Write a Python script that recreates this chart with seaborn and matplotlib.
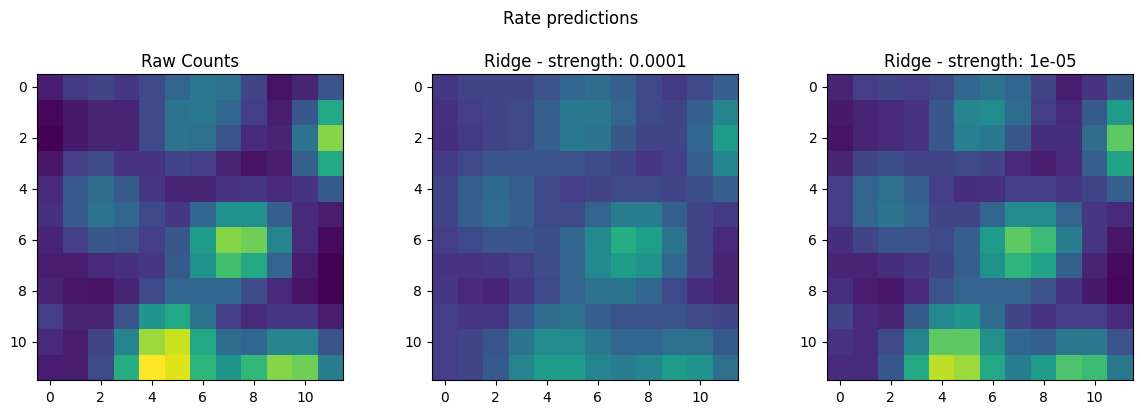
import numpy as np
import seaborn as sns
import matplotlib.pyplot as plt

# values, scaled to the colormap range 0..1
raw_counts = [
    [0.08, 0.17, 0.20, 0.16, 0.22, 0.32, 0.40, 0.37, 0.20, 0.05, 0.10, 0.25],
    [0.02, 0.07, 0.10, 0.10, 0.22, 0.38, 0.40, 0.33, 0.18, 0.08, 0.27, 0.60],
    [0.00, 0.07, 0.10, 0.10, 0.22, 0.38, 0.36, 0.25, 0.12, 0.10, 0.38, 0.82],
    [0.06, 0.18, 0.23, 0.15, 0.15, 0.20, 0.18, 0.10, 0.05, 0.08, 0.30, 0.60],
    [0.12, 0.28, 0.35, 0.28, 0.16, 0.10, 0.10, 0.15, 0.16, 0.12, 0.15, 0.28],
    [0.14, 0.28, 0.38, 0.33, 0.22, 0.16, 0.33, 0.50, 0.50, 0.30, 0.12, 0.08],
    [0.10, 0.18, 0.27, 0.25, 0.18, 0.27, 0.55, 0.82, 0.78, 0.45, 0.12, 0.03],
    [0.08, 0.08, 0.12, 0.14, 0.16, 0.28, 0.50, 0.70, 0.60, 0.32, 0.08, 0.00],
    [0.10, 0.06, 0.05, 0.10, 0.22, 0.33, 0.33, 0.33, 0.23, 0.12, 0.05, 0.00],
    [0.18, 0.10, 0.10, 0.25, 0.52, 0.60, 0.38, 0.18, 0.12, 0.16, 0.16, 0.08],
    [0.12, 0.08, 0.20, 0.45, 0.85, 0.92, 0.60, 0.35, 0.33, 0.45, 0.45, 0.25],
    [0.08, 0.08, 0.22, 0.62, 1.00, 0.95, 0.65, 0.52, 0.66, 0.82, 0.78, 0.42],
]

ridge_1e4 = [
    [0.16, 0.20, 0.20, 0.20, 0.25, 0.33, 0.35, 0.30, 0.22, 0.17, 0.22, 0.30],
    [0.14, 0.18, 0.20, 0.22, 0.30, 0.40, 0.40, 0.32, 0.22, 0.20, 0.30, 0.45],
    [0.13, 0.17, 0.20, 0.22, 0.30, 0.40, 0.38, 0.27, 0.20, 0.20, 0.33, 0.55],
    [0.17, 0.22, 0.26, 0.26, 0.26, 0.25, 0.23, 0.20, 0.16, 0.18, 0.30, 0.46],
    [0.20, 0.30, 0.34, 0.30, 0.22, 0.18, 0.20, 0.22, 0.22, 0.20, 0.24, 0.30],
    [0.20, 0.30, 0.35, 0.30, 0.22, 0.22, 0.32, 0.42, 0.42, 0.30, 0.20, 0.17],
    [0.18, 0.22, 0.26, 0.26, 0.24, 0.33, 0.47, 0.62, 0.56, 0.38, 0.20, 0.12],
    [0.15, 0.15, 0.16, 0.18, 0.23, 0.32, 0.47, 0.55, 0.50, 0.33, 0.20, 0.10],
    [0.16, 0.12, 0.10, 0.16, 0.22, 0.32, 0.37, 0.38, 0.33, 0.22, 0.13, 0.10],
    [0.18, 0.16, 0.16, 0.26, 0.35, 0.38, 0.30, 0.26, 0.25, 0.25, 0.22, 0.20],
    [0.18, 0.20, 0.26, 0.38, 0.48, 0.48, 0.40, 0.33, 0.33, 0.36, 0.36, 0.28],
    [0.18, 0.20, 0.28, 0.45, 0.55, 0.55, 0.45, 0.42, 0.45, 0.55, 0.50, 0.36],
]

ridge_1e5 = [
    [0.10, 0.18, 0.20, 0.18, 0.22, 0.33, 0.38, 0.33, 0.20, 0.08, 0.15, 0.27],
    [0.07, 0.10, 0.12, 0.15, 0.27, 0.45, 0.48, 0.35, 0.18, 0.12, 0.28, 0.55],
    [0.05, 0.10, 0.12, 0.15, 0.27, 0.43, 0.40, 0.27, 0.13, 0.13, 0.35, 0.75],
    [0.10, 0.20, 0.24, 0.20, 0.20, 0.22, 0.20, 0.12, 0.08, 0.12, 0.30, 0.58],
    [0.18, 0.32, 0.36, 0.30, 0.18, 0.13, 0.14, 0.18, 0.18, 0.16, 0.20, 0.30],
    [0.18, 0.32, 0.38, 0.32, 0.20, 0.20, 0.32, 0.48, 0.48, 0.32, 0.16, 0.12],
    [0.13, 0.20, 0.26, 0.25, 0.22, 0.30, 0.55, 0.75, 0.68, 0.42, 0.16, 0.06],
    [0.10, 0.10, 0.13, 0.16, 0.20, 0.30, 0.50, 0.65, 0.58, 0.30, 0.10, 0.03],
    [0.14, 0.08, 0.06, 0.12, 0.25, 0.32, 0.32, 0.32, 0.25, 0.15, 0.07, 0.02],
    [0.20, 0.12, 0.10, 0.28, 0.47, 0.52, 0.35, 0.20, 0.15, 0.18, 0.18, 0.12],
    [0.15, 0.12, 0.22, 0.45, 0.75, 0.75, 0.50, 0.33, 0.30, 0.40, 0.40, 0.25],
    [0.12, 0.12, 0.27, 0.60, 0.90, 0.85, 0.60, 0.42, 0.55, 0.72, 0.68, 0.40],
]

titles = ['Raw Counts', 'Ridge - strength: 0.0001', 'Ridge - strength: 1e-05']
tick_labels = [0, 2, 4, 6, 8, 10]

fig = plt.figure(figsize=(11.41, 4.14), dpi=100)
lefts = [37, 432, 827]
for i, (mat, title) in enumerate(zip([raw_counts, ridge_1e4, ridge_1e5], titles)):
    ax = fig.add_axes([lefts[i] / 1141, 33 / 414, 306 / 1141, 306 / 414])
    sns.heatmap(np.array(mat), ax=ax, cmap='viridis', vmin=0, vmax=1,
                cbar=False, square=True)
    ticks = np.array(tick_labels) + 0.5
    ax.set_xticks(ticks)
    ax.set_xticklabels(tick_labels, rotation=0)
    ax.set_yticks(ticks)
    ax.set_yticklabels(tick_labels, rotation=0)
    ax.tick_params(length=3.5, labelsize=10)
    for s in ax.spines.values():
        s.set_visible(True)
        s.set_linewidth(0.8)
    ax.set_title(title, fontsize=12)

fig.suptitle('Rate predictions', fontsize=12, y=0.975)
plt.savefig('out.png', dpi=100)
